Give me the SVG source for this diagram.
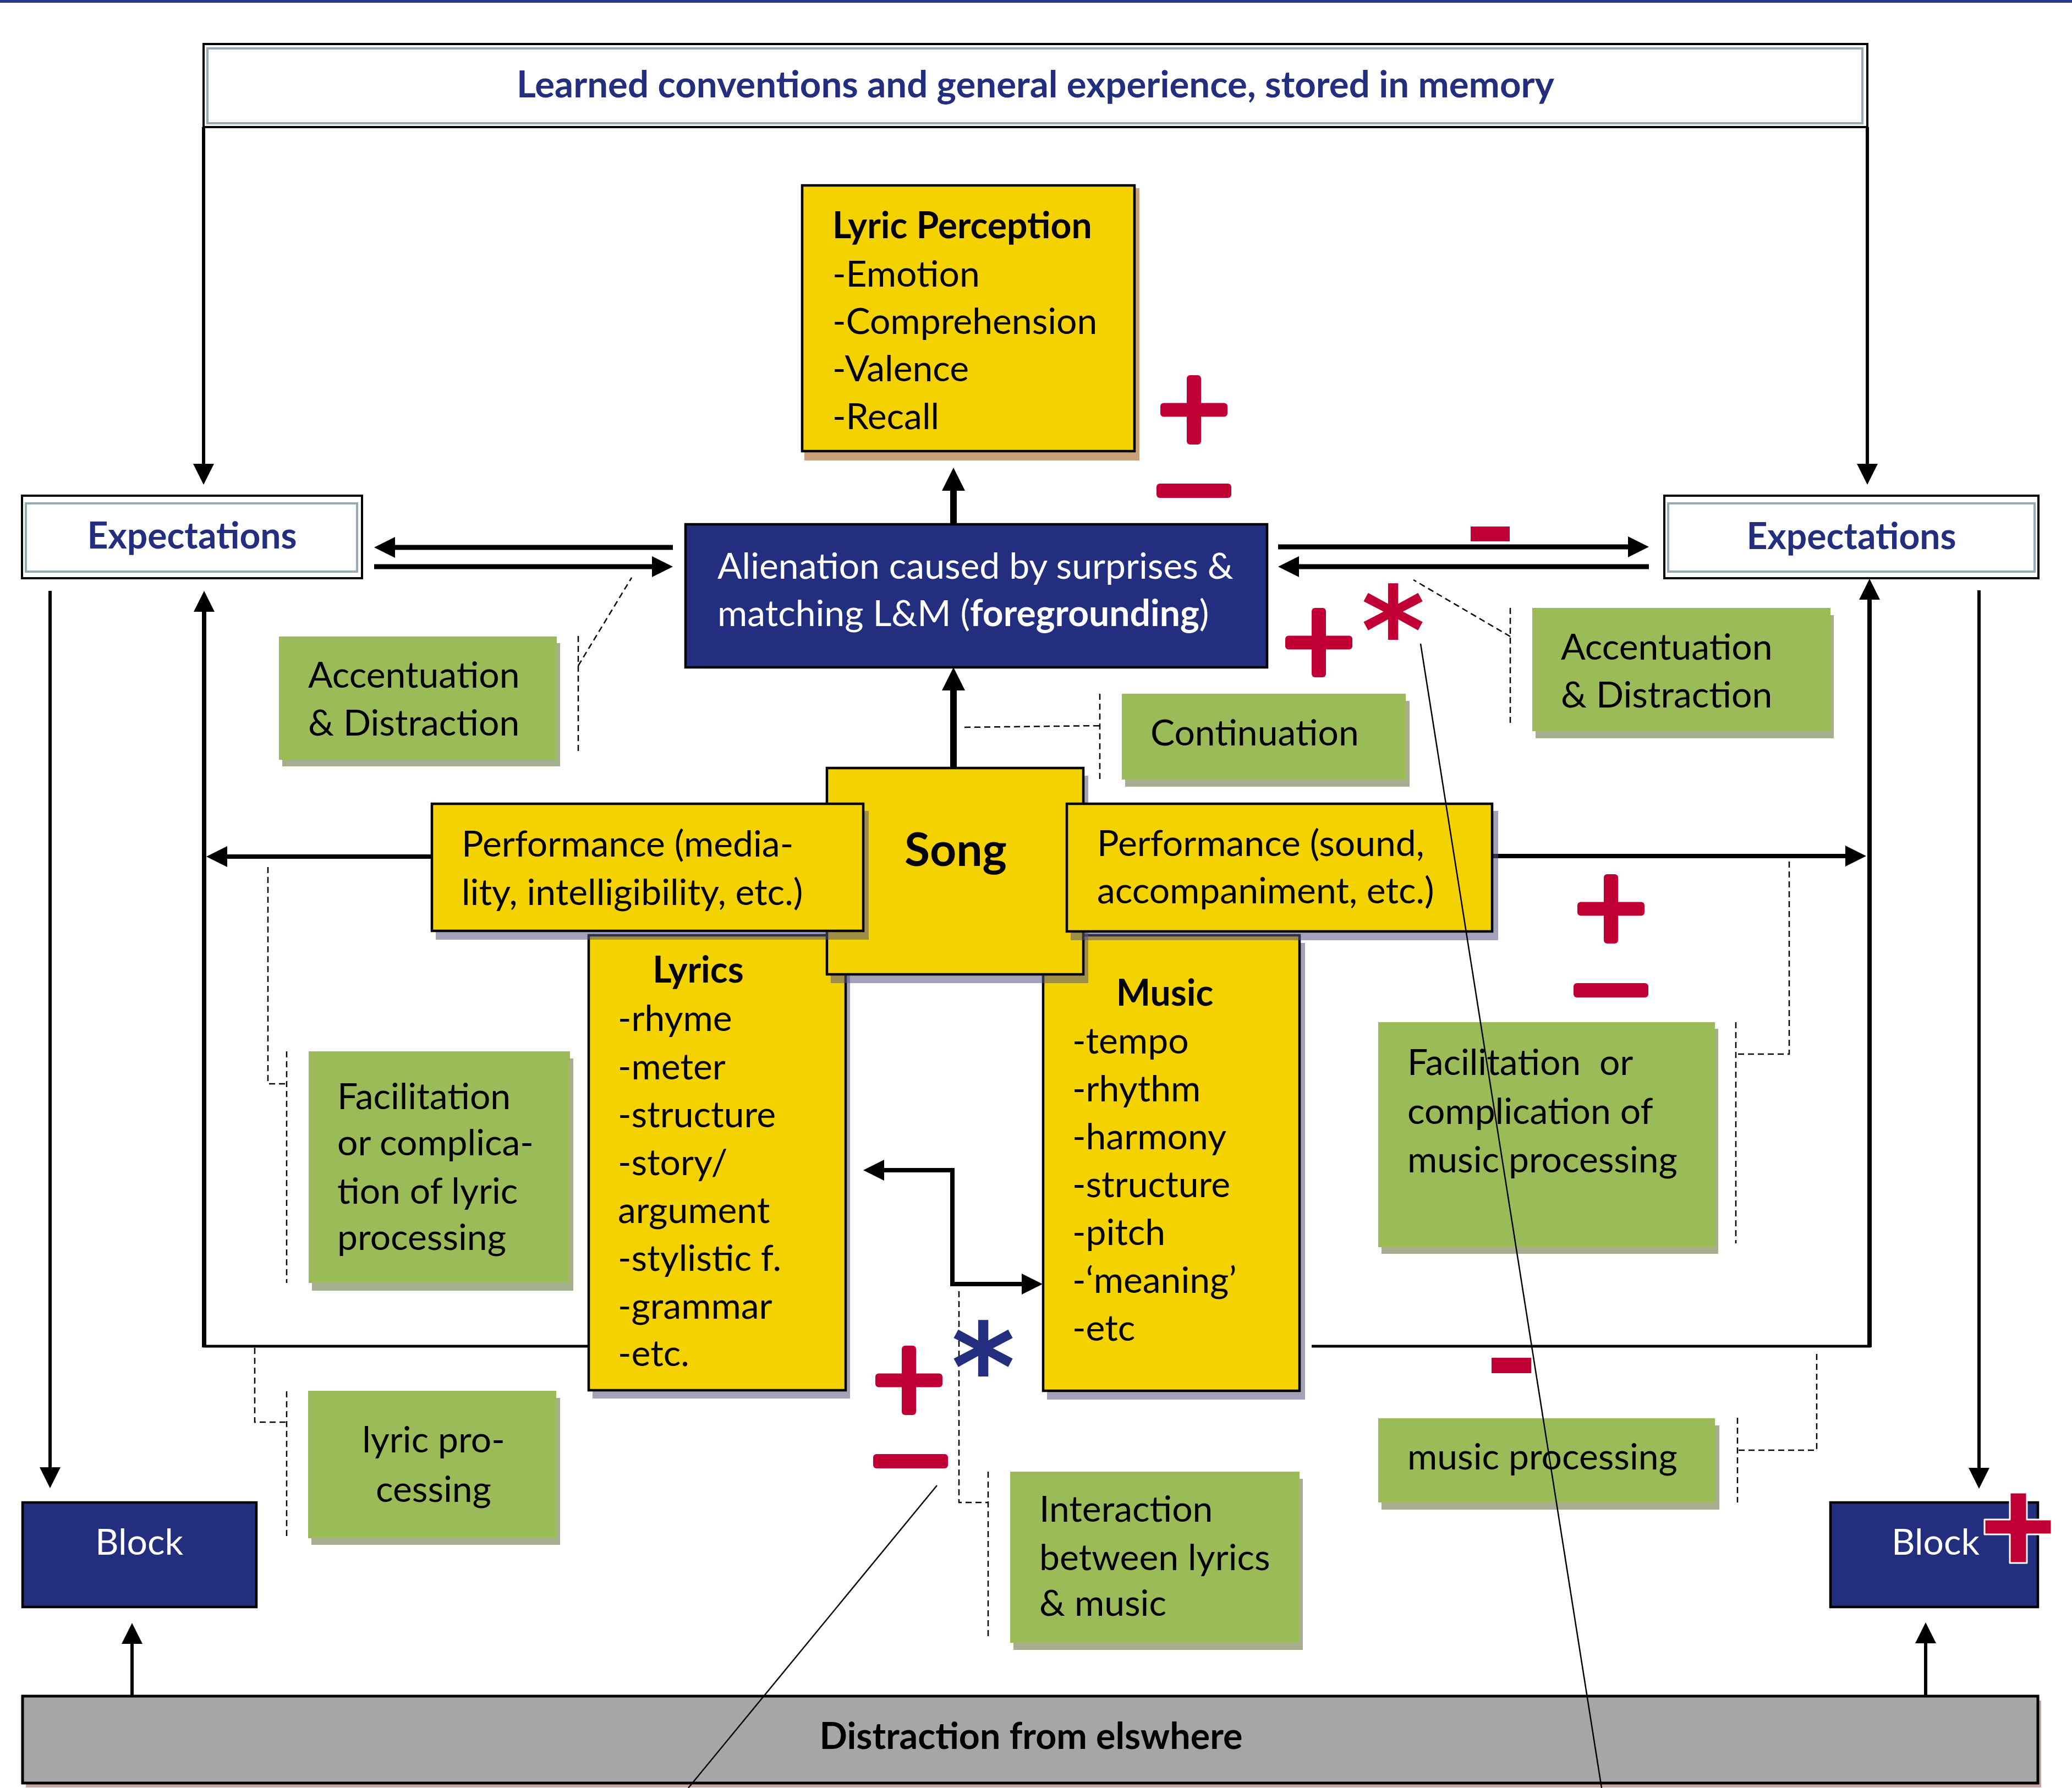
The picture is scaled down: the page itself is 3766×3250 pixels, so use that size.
<svg xmlns="http://www.w3.org/2000/svg" width="3766" height="3250" viewBox="0 0 3766 3250">
<style>
.t{font-family:Lato,"Liberation Sans",sans-serif;font-size:66px;fill:#000}
.b{font-weight:bold}
.nv{fill:#232e7e}
.w{fill:#fff}
.ylw{fill:#f4d200;stroke:#000;stroke-width:4.5}
.ysh{fill:#5a5580;opacity:0.55}
.grn{fill:#9bbb59}
.gsh{fill:#a6ae90}
.navy{fill:#232e7e;stroke:#000;stroke-width:4.5}
.exo{fill:#fff;stroke:#000;stroke-width:4}
.exi{fill:none;stroke:#94abb5;stroke-width:4}
.ln{fill:none;stroke:#000}
.dash{fill:none;stroke:#000;stroke-width:2.5;stroke-dasharray:11 7}
.red{fill:#c00034}
.ast{font-family:"DejaVu Sans",sans-serif;font-weight:bold;font-size:222px}
</style>
<defs>
<marker id="ah" markerUnits="userSpaceOnUse" markerWidth="38" markerHeight="38" viewBox="0 0 38 38" refX="4" refY="19" orient="auto-start-reverse"><path d="M0,0 L38,19 L0,38 z" fill="#000"/></marker>
<marker id="ahL" markerUnits="userSpaceOnUse" markerWidth="42" markerHeight="42" viewBox="0 0 42 42" refX="4" refY="21" orient="auto-start-reverse"><path d="M0,0 L42,21 L0,42 z" fill="#000"/></marker>
<g id="plus"><rect x="-13" y="-63" width="26" height="126" rx="6"/><rect x="-61" y="-12.5" width="122" height="25" rx="6"/></g>
<rect id="minus" x="-68" y="-13" width="136" height="26" rx="6"/>
</defs>
<rect x="0" y="0" width="3766" height="3250" fill="#fff"/>
<rect x="0" y="0" width="3766" height="5" fill="#2a3583"/>

<g id="connectors">
<path class="ln" stroke-width="6" d="M370,231 V847" marker-end="url(#ah)"/>
<path class="ln" stroke-width="6" d="M3394,231 V847" marker-end="url(#ah)"/>
<path class="ln" stroke-width="9" d="M1223,995 H714" marker-end="url(#ah)"/>
<path class="ln" stroke-width="9" d="M680,1030 H1189" marker-end="url(#ah)"/>
<path class="ln" stroke-width="9" d="M2323,994 H2963" marker-end="url(#ah)"/>
<path class="ln" stroke-width="9" d="M2997,1030 H2357" marker-end="url(#ah)"/>
<path class="ln" stroke-width="12" d="M1733,955 V888" marker-end="url(#ahL)"/>
<path class="ln" stroke-width="12" d="M1733,1396 V1251" marker-end="url(#ahL)"/>
<path class="ln" stroke-width="5" d="M1070,2447 H369"/>
<path class="ln" stroke-width="8" d="M371,2449 V1108" marker-end="url(#ah)"/>
<path class="ln" stroke-width="8" d="M785,1557 H409" marker-end="url(#ah)"/>
<path class="ln" stroke-width="5" d="M2384,2447 H3400"/>
<path class="ln" stroke-width="8" d="M3398,2449 V1086" marker-end="url(#ah)"/>
<path class="ln" stroke-width="8" d="M2712,1556 H3358" marker-end="url(#ah)"/>
<path class="ln" stroke-width="6" d="M91,1074 V2671" marker-end="url(#ah)"/>
<path class="ln" stroke-width="6" d="M3597,1073 V2672" marker-end="url(#ah)"/>
<path class="ln" stroke-width="6" d="M240,3083 V2984" marker-end="url(#ah)"/>
<path class="ln" stroke-width="6" d="M3500,3083 V2983" marker-end="url(#ah)"/>
<path class="ln" stroke-width="8" d="M1603,2127 H1731 V2334 H1861" marker-start="url(#ah)" marker-end="url(#ah)"/>
<path class="dash" d="M1051,1156 V1372 M1051,1210 L1148,1050"/>
<path class="dash" d="M2745,1105 V1321 M2745,1157 L2569,1054"/>
<path class="dash" d="M1999,1261 V1417 M1753,1322 L1999,1319"/>
<path class="dash" d="M487,1576 V1970 H521 M521,1911 V2332"/>
<path class="dash" d="M463,2450 V2585 H521 M521,2529 V2796"/>
<path class="dash" d="M1743,2347 V2731 H1796 M1796,2675 V2980"/>
<path class="dash" d="M3252,1566 V1916 H3155 M3155,1858 V2260"/>
<path class="dash" d="M3302,2461 V2636 H3158 M3158,2577 V2731"/>
</g>

<g id="memory">
<rect class="exo" x="370" y="80" width="3024" height="151"/>
<rect class="exi" x="377" y="88" width="3008" height="136"/>
<text class="t b nv" x="1882" y="177" text-anchor="middle" textLength="1886" lengthAdjust="spacingAndGlyphs">Learned conventions and general experience, stored in memory</text>
</g>

<g id="expectations-left">
<rect class="exo" x="40" y="901" width="618" height="150"/>
<rect class="exi" x="47" y="915" width="602" height="124"/>
<text class="t b nv" x="349" y="997" text-anchor="middle">Expectations</text>
</g>

<g id="expectations-right">
<rect class="exo" x="3025" y="901" width="680" height="150"/>
<rect class="exi" x="3032" y="915" width="666" height="124"/>
<text class="t b nv" x="3365" y="998" text-anchor="middle">Expectations</text>
</g>

<g id="lyric-perception">
<rect x="1462" y="342" width="609" height="495" fill="#c9a07a"/>
<rect class="ylw" x="1458" y="337" width="604" height="483"/>
<text class="t b" x="1513" y="433">Lyric Perception</text>
<text class="t" x="1513" y="521">-Emotion</text>
<text class="t" x="1513" y="607">-Comprehension</text>
<text class="t" x="1513" y="693">-Valence</text>
<text class="t" x="1513" y="780">-Recall</text>
</g>

<g id="alienation">
<rect class="navy" x="1246" y="953" width="1057" height="260"/>
<text class="t w" x="1304" y="1052">Alienation caused by surprises &amp;</text>
<text class="t w" x="1304" y="1138">matching L&amp;M (<tspan class="b">foregrounding</tspan>)</text>
</g>

<g id="accentuation-left">
<rect class="gsh" x="513" y="1169" width="505" height="224"/>
<rect class="grn" x="507" y="1157" width="505" height="224"/>
<text class="t" x="560" y="1250">Accentuation</text>
<text class="t" x="560" y="1337">&amp; Distraction</text>
</g>

<g id="accentuation-right">
<rect class="gsh" x="2791" y="1118" width="542" height="224"/>
<rect class="grn" x="2785" y="1105" width="542" height="224"/>
<text class="t" x="2837" y="1199">Accentuation</text>
<text class="t" x="2837" y="1286">&amp; Distraction</text>
</g>

<g id="continuation">
<rect class="gsh" x="2045" y="1274" width="517" height="156"/>
<rect class="grn" x="2039" y="1261" width="516" height="156"/>
<text class="t" x="2091" y="1355">Continuation</text>
</g>

<g id="lyrics">
<rect class="ysh" x="1077" y="1714" width="468" height="828"/>
<rect class="ylw" x="1070" y="1700" width="467" height="827"/>
<text class="t b" x="1269" y="1786" text-anchor="middle">Lyrics</text>
<text class="t" x="1123" y="1874">-rhyme</text>
<text class="t" x="1123" y="1962">-meter</text>
<text class="t" x="1123" y="2049">-structure</text>
<text class="t" x="1123" y="2136">-story/</text>
<text class="t" x="1123" y="2223">argument</text>
<text class="t" x="1123" y="2310">-stylistic f.</text>
<text class="t" x="1123" y="2397">-grammar</text>
<text class="t" x="1123" y="2483">-etc.</text>
</g>

<g id="music">
<rect class="ysh" x="1903" y="1714" width="469" height="830"/>
<rect class="ylw" x="1896" y="1700" width="466" height="828"/>
<text class="t b" x="2117" y="1828" text-anchor="middle">Music</text>
<text class="t" x="1949" y="1915">-tempo</text>
<text class="t" x="1949" y="2002">-rhythm</text>
<text class="t" x="1949" y="2089">-harmony</text>
<text class="t" x="1949" y="2176">-structure</text>
<text class="t" x="1949" y="2263">-pitch</text>
<text class="t" x="1949" y="2350">-‘meaning’</text>
<text class="t" x="1949" y="2437">-etc</text>
</g>

<g id="song">
<rect class="ysh" x="1510" y="1410" width="468" height="377"/>
<rect class="ylw" x="1503" y="1396" width="466" height="375"/>
<text class="t b" x="1737" y="1574" text-anchor="middle" style="font-size:84px">Song</text>
</g>

<g id="performance-lyrics">
<rect class="ysh" x="792" y="1474" width="787" height="234"/>
<rect class="ylw" x="785" y="1461" width="784" height="231"/>
<text class="t" x="839" y="1557">Performance (media-</text>
<text class="t" x="839" y="1645">lity, intelligibility, etc.)</text>
</g>

<g id="performance-music">
<rect class="ysh" x="1946" y="1474" width="777" height="235"/>
<rect class="ylw" x="1939" y="1461" width="773" height="232"/>
<text class="t" x="1994" y="1556">Performance (sound,</text>
<text class="t" x="1994" y="1642">accompaniment, etc.)</text>
</g>

<g id="facilitation-lyric">
<rect class="gsh" x="567" y="1924" width="475" height="422"/>
<rect class="grn" x="561" y="1911" width="475" height="421"/>
<text class="t" x="613" y="2016">Facilitation</text>
<text class="t" x="613" y="2100">or complica-</text>
<text class="t" x="613" y="2188">tion of lyric</text>
<text class="t" x="613" y="2272">processing</text>
</g>

<g id="facilitation-music">
<rect class="gsh" x="2511" y="1870" width="612" height="409"/>
<rect class="grn" x="2505" y="1858" width="612" height="409"/>
<text class="t" x="2558" y="1954" xml:space="preserve">Facilitation  or</text>
<text class="t" x="2558" y="2043">complication of</text>
<text class="t" x="2558" y="2131">music processing</text>
</g>

<g id="lyric-processing">
<rect class="gsh" x="566" y="2541" width="452" height="267"/>
<rect class="grn" x="560" y="2528" width="451" height="268"/>
<text class="t" x="788" y="2640" text-anchor="middle">lyric pro-</text>
<text class="t" x="788" y="2730" text-anchor="middle">cessing</text>
</g>

<g id="music-processing">
<rect class="gsh" x="2511" y="2591" width="614" height="153"/>
<rect class="grn" x="2505" y="2578" width="612" height="153"/>
<text class="t" x="2558" y="2671">music processing</text>
</g>

<g id="interaction">
<rect class="gsh" x="1842" y="2688" width="526" height="311"/>
<rect class="grn" x="1836" y="2675" width="526" height="311"/>
<text class="t" x="1889" y="2766">Interaction</text>
<text class="t" x="1889" y="2854">between lyrics</text>
<text class="t" x="1889" y="2937">&amp; music</text>
</g>

<g id="block-left">
<rect class="navy" x="41" y="2731" width="425" height="190"/>
<text class="t w" x="253" y="2826" text-anchor="middle">Block</text>
</g>

<g id="block-right">
<rect class="navy" x="3327" y="2731" width="377" height="190"/>
<text class="t w" x="3518" y="2826" text-anchor="middle">Block</text>
</g>

<g id="distraction">
<rect x="47" y="3091" width="3663" height="158" fill="#caa4a0"/>
<rect x="41" y="3083" width="3663" height="158" fill="#a6a6a6" stroke="#000" stroke-width="5"/>
<text class="t b" x="1874" y="3179" text-anchor="middle" textLength="769" lengthAdjust="spacingAndGlyphs">Distraction from elswhere</text>
</g>

<g id="pointer-lines">
<path class="ln" stroke-width="2.5" d="M2582,1170 L2911,3250"/>
<path class="ln" stroke-width="2.5" d="M1703,2700 L1251,3250"/>
</g>

<g id="signs" class="red">
<use href="#plus" x="2170" y="745"/>
<use href="#minus" x="2170" y="892"/>
<rect x="2673" y="957" width="71" height="27"/>
<use href="#plus" x="2397" y="1168"/>
<text class="ast" x="2532" y="1225" text-anchor="middle">*</text>
<use href="#plus" x="2928" y="1652"/>
<use href="#minus" x="2928" y="1800"/>
<rect x="2711" y="2468" width="72" height="28"/>
<use href="#plus" x="1652" y="2509"/>
<use href="#minus" x="1655" y="2656"/>
<text class="ast" x="1787" y="2564" text-anchor="middle" fill="#232e7e">*</text>
<path d="M3653,2713 H3684 V2762 H3729 V2789 H3684 V2841 H3653 V2789 H3607 V2762 H3653 Z" stroke="#fff" stroke-width="3" stroke-linejoin="round"/>
</g>
</svg>
